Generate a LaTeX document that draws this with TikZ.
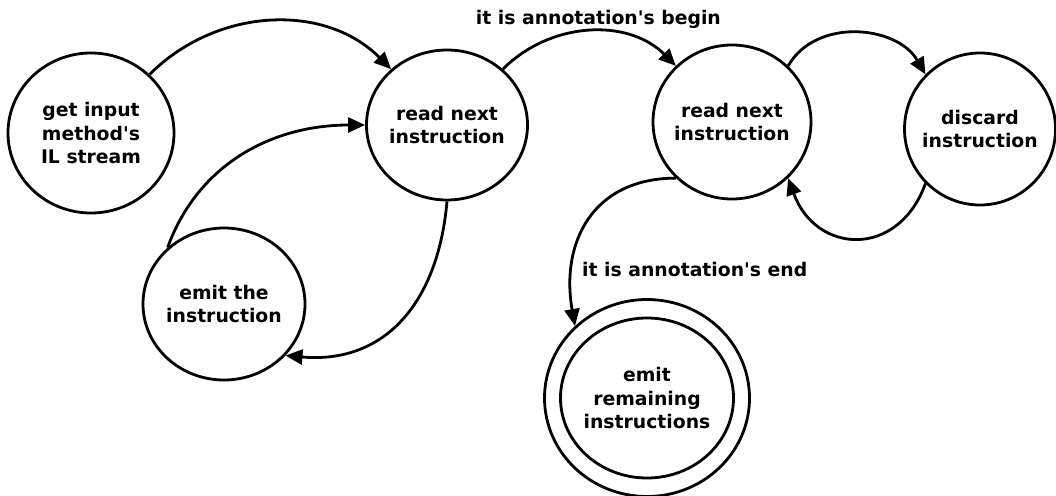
\documentclass[tikz,border=0pt]{standalone}
\usepackage{fontspec}
\setmainfont{DejaVu Sans}[Ligatures=TeXOff]
\usetikzlibrary{arrows.meta,shapes.geometric}

\begin{document}
\begin{tikzpicture}[x=1pt,y=1pt,
    font=\fontsize{18.8}{23.5}\selectfont\bfseries,
    state/.style={ellipse,draw,line width=2.8pt,inner sep=-10pt,align=center},
    trans/.style={line width=2.8pt,-{Triangle[length=17pt,width=15pt]}}]
        \useasboundingbox (0,0) rectangle (1056,-495);
        \node[state,minimum width=166pt,minimum height=160pt](getil)at(91,-133){get input\\method's\\IL stream};
        \node[state,minimum width=161pt,minimum height=150pt](readA)at(447,-125){read next\\instruction};
        \node[state,minimum width=162pt,minimum height=152pt](emitone)at(224,-304){emit the\\instruction};
        \node[state,minimum width=158pt,minimum height=154pt](readB)at(732,-122){read next\\instruction};
        \node[state,minimum width=151pt,minimum height=152pt](discard)at(980,-129){discard\\instruction};
        \node[state,minimum width=205pt,minimum height=197pt](emitrem)at(647,-398){};
        \node[state,minimum width=173pt,minimum height=160pt](emitremin)at(emitrem.center){emit\\remaining\\instructions};
        \draw[trans](getil.45) to[out=45,in=135] (readA.135);
        \draw[trans](emitone.135) to[out=70,in=180] (readA.west);
        \draw[trans](readA.south) to[out=-95,in=-5,looseness=1.15] (emitone.-40);
        \draw[trans](readA.45) to[out=45,in=135] node[above=0pt,xshift=9pt,yshift=-2pt]{it is annotation's begin} (readB.135);
        \draw[trans](readB.45) to[out=60,in=120,looseness=1.05] (discard.135);
        \draw[trans](discard.-135) to[out=-110,in=-70,looseness=1.5] (readB.-45);
        \draw[trans](readB.-135) to[out=180,in=100,looseness=1.2] node[pos=.7,right=3pt,yshift=-12pt]{it is annotation's end} (emitrem.135);
    \end{tikzpicture}
\end{document}
